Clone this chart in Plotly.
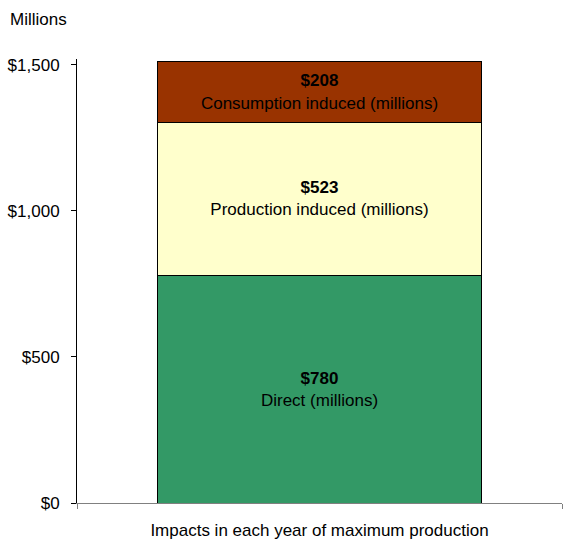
import plotly.graph_objects as go

# data
category = ["Impacts in each year of maximum production"]
segments = ["Direct (millions)", "Production induced (millions)", "Consumption induced (millions)"]
values = [780, 523, 208]
colors = ["#339966", "#FFFFCC", "#993300"]
tick_vals = [0, 500, 1000, 1500]
tick_text = ["$0", "$500", "$1,000", "$1,500"]

fig = go.Figure()
for name, v, c in zip(segments, values, colors):
    fig.add_trace(go.Bar(
        x=category, y=[v], name=name,
        marker=dict(color=c, line=dict(color="#000000", width=1)),
        width=0.668,
        text=[f"<b>${v}</b><br>{name}"],
        textposition="inside", insidetextanchor="middle",
        textfont=dict(family="Liberation Sans, Arial", size=17, color="#000000"),
        hoverinfo="skip",
    ))

fig.update_layout(
    barmode="stack",
    width=563, height=542,
    margin=dict(l=77, r=1, t=59, b=39),
    paper_bgcolor="white", plot_bgcolor="white",
    showlegend=False,
    font=dict(family="Liberation Sans, Arial", size=17, color="#000000"),
)
fig.update_yaxes(
    range=[0, 1520], tickvals=tick_vals, ticktext=tick_text,
    showgrid=False, zeroline=False,
    showline=True, linecolor="#000000", linewidth=1,
    ticks="outside", ticklen=5, tickcolor="#000000",
    ticklabelstandoff=8,
)
fig.update_xaxes(
    range=[-0.5, 0.5], showgrid=False,
    showline=True, linecolor="#808080", linewidth=1,
    ticks="outside", ticklen=5, tickcolor="#808080", tickson="boundaries",
    ticklabelstandoff=12,
)
fig.add_annotation(
    text="Millions", xref="paper", yref="paper",
    x=(8 - 77) / 485, y=(503 - 19) / 444,
    xanchor="left", yanchor="middle", showarrow=False,
)

# drop the default page margin so the figure sits at the window's corner
fig.write_html("out.html", config={"displayModeBar": False},
               post_script="document.body.style.margin='0';")
